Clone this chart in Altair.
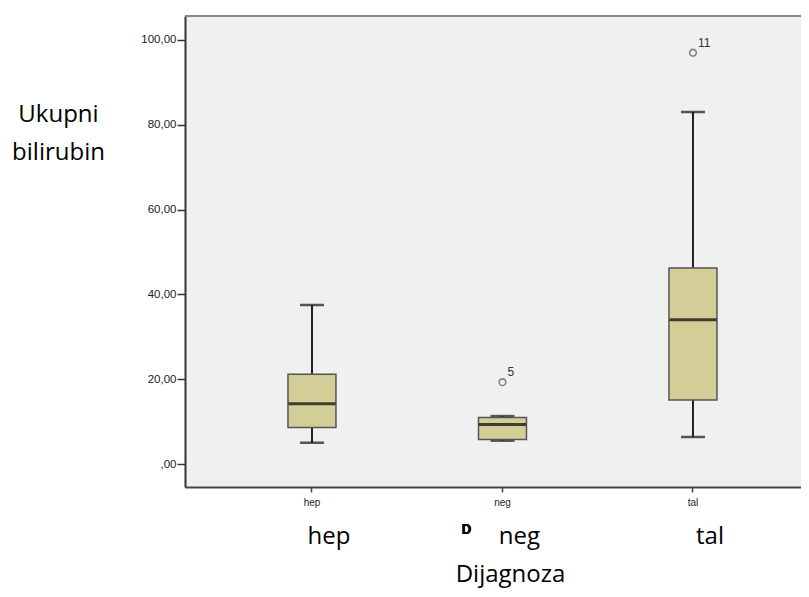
import altair as alt
import pandas as pd

# ---- data ----
categories = ["hep", "neg", "tal"]
whisker_low = [5.0, 5.5, 6.4]
q1 = [8.6, 5.8, 15.1]
median = [14.2, 9.3, 34.0]
q3 = [21.2, 11.0, 46.2]
whisker_high = [37.5, 11.3, 83.0]

outlier_cat = ["neg", "tal"]
outlier_val = [19.3, 97.0]
outlier_label = ["5", "11"]

y_ticks = [0, 20, 40, 60, 80, 100]

box_df = pd.DataFrame({
    "cat": categories, "low": whisker_low, "q1": q1,
    "med": median, "q3": q3, "high": whisker_high,
})
out_df = pd.DataFrame({"cat": outlier_cat, "val": outlier_val, "lab": outlier_label})

PLOT_W, PLOT_H = 616, 471
TOTAL_H = 581

xscale = alt.Scale(domain=categories, paddingInner=0, paddingOuter=0.1168, align=0.713)
yscale = alt.Scale(domain=[-5.42, 105.66], nice=False, zero=False)

xaxis = alt.Axis(
    title="Dijagnoza", titleFont="Open Sans", titleFontSize=24, titleFontWeight="normal",
    titleColor="#000000", titleX=325, titleY=94, titleAlign="center",
    titleBaseline="alphabetic", titleAngle=0,
    labelFont="Liberation Sans", labelFontSize=10, labelColor="#222222",
    labelPadding=5, labelAngle=0, labelBaseline="top",
    tickSize=5, tickColor="#444444", tickWidth=1.5,
    domain=True, domainColor="#444444", domainWidth=2, grid=False,
)
yaxis = alt.Axis(
    title=["Ukupni", "bilirubin"], titleFont="Open Sans", titleFontSize=24,
    titleFontWeight="normal", titleColor="#000000", titleAngle=0,
    titleX=-127, titleY=105, titleAlign="center", titleBaseline="alphabetic",
    titleLineHeight=38,
    values=y_ticks,
    labelExpr="datum.value == 0 ? ',00' : replace(format(datum.value, '.2f'), '.', ',')",
    labelFont="Liberation Sans", labelFontSize=11.5, labelColor="#222222", labelPadding=1,
    tickSize=8, tickColor="#333333", tickWidth=1.5,
    domain=True, domainColor="#333333", domainWidth=2, grid=False,
)

X = alt.X("cat:N", scale=xscale, axis=xaxis)
base = alt.Chart(box_df)

top_line = base.mark_rule(color="#888888", strokeWidth=2).encode(
    x=alt.value(0), x2=alt.value(PLOT_W), y=alt.value(0))

whisker = base.mark_rule(color="#222222", strokeWidth=2).encode(
    x=X, y=alt.Y("low:Q", scale=yscale, axis=yaxis), y2="high:Q")
cap_low = base.mark_tick(color="#111111", size=24, thickness=2.5).encode(
    x=X, y=alt.Y("low:Q", scale=yscale, axis=yaxis))
cap_high = base.mark_tick(color="#111111", size=24, thickness=2.5).encode(
    x=X, y=alt.Y("high:Q", scale=yscale, axis=yaxis))
box = base.mark_bar(size=48, fill="#d3ce98", stroke="#555555", strokeWidth=1.5).encode(
    x=X, y=alt.Y("q1:Q", scale=yscale, axis=yaxis), y2="q3:Q")
med = base.mark_tick(color="#000000", size=47, thickness=3).encode(
    x=X, y=alt.Y("med:Q", scale=yscale, axis=yaxis))

outl = alt.Chart(out_df).mark_point(shape="circle", filled=False, size=45,
                                    color="#555555", strokeWidth=1.6).encode(
    x=X, y=alt.Y("val:Q", scale=yscale, axis=yaxis))
outl_text = alt.Chart(out_df).mark_text(align="left", baseline="middle", dx=5, dy=-10,
                                        font="Liberation Sans", fontSize=12,
                                        color="#333333").encode(
    x=X, y=alt.Y("val:Q", scale=yscale, axis=yaxis), text="lab:N")

big_labels = base.mark_text(font="Open Sans", fontSize=24, color="#000000",
                            baseline="alphabetic", align="center", dx=17).encode(
    x=X, y=alt.value(528), text="cat:N")

d_mark = base.mark_text(font="Open Sans", fontSize=14, fontWeight="bold", color="#000000",
                        baseline="alphabetic", align="center", dx=-36).encode(
    x=alt.datum("neg", scale=xscale), y=alt.value(518), text=alt.value("D"))

chart = alt.layer(
    top_line, whisker, cap_low, cap_high, box, med, outl, outl_text, big_labels, d_mark
).properties(
    width=PLOT_W, height=PLOT_H,
    autosize=alt.AutoSizeParams(type="none"),
    padding={"left": 177, "top": 8, "right": 0, "bottom": TOTAL_H - 8 - PLOT_H},
    background="#ffffff",
).configure_view(
    fill="#f0f0f0", stroke=None,
)

chart.save("out.html", embed_options={"renderer": "svg", "actions": False})
